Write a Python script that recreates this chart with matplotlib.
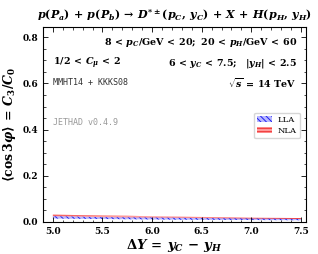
import matplotlib
matplotlib.use("Agg")
import matplotlib.pyplot as plt
from matplotlib.ticker import MultipleLocator

plt.rcParams['mathtext.fontset'] = 'custom'
plt.rcParams['mathtext.it'] = 'DejaVu Serif:italic:bold'
plt.rcParams['mathtext.rm'] = 'DejaVu Serif:bold'
plt.rcParams['mathtext.bf'] = 'DejaVu Serif:bold'
plt.rcParams['mathtext.cal'] = 'DejaVu Serif:italic:bold'
plt.rcParams['font.family'] = 'serif'
plt.rcParams['font.serif'] = ['DejaVu Serif']
plt.rcParams['hatch.linewidth'] = 0.7

dy = [5.0, 5.25, 5.5, 5.75, 6.0, 6.25, 6.5, 6.75, 7.0, 7.25, 7.5]
lla_lo = [0.015, 0.014, 0.013, 0.012, 0.011, 0.010, 0.0095, 0.009, 0.0085, 0.008, 0.0075]
lla_hi = [0.025, 0.023, 0.021, 0.020, 0.019, 0.018, 0.017, 0.016, 0.015, 0.014, 0.013]
nla_lo = [0.020, 0.019, 0.018, 0.017, 0.016, 0.015, 0.014, 0.013, 0.012, 0.011, 0.010]
nla_hi = [0.032, 0.030, 0.028, 0.027, 0.025, 0.024, 0.022, 0.021, 0.019, 0.018, 0.017]

fig = plt.figure(figsize=(3.18, 2.54), dpi=100)
ax = fig.add_axes([0.135, 0.126, 0.827, 0.768])

ax.fill_between(dy, nla_lo, nla_hi, facecolor='#ff9a9a', edgecolor='#ee3030',
                hatch='-----', linewidth=0, label='NLA')
ax.fill_between(dy, lla_lo, lla_hi, facecolor='#b8b8ff', edgecolor='#2020f0',
                hatch='\\\\\\\\\\\\', linewidth=0, label='LLA')

ax.set_xlim(4.9, 7.55)
ax.set_ylim(0, 0.845)
ax.xaxis.set_major_locator(MultipleLocator(0.5))
ax.xaxis.set_minor_locator(MultipleLocator(0.1))
ax.yaxis.set_major_locator(MultipleLocator(0.2))
ax.yaxis.set_minor_locator(MultipleLocator(0.05))
ax.tick_params(which='both', direction='in', top=True, right=True, labelsize=6.5)
ax.tick_params(which='major', length=3.5, width=0.6)
ax.tick_params(which='minor', length=1.8, width=0.5)
for lab in ax.get_xticklabels() + ax.get_yticklabels():
    lab.set_fontweight('bold')

ax.set_title(r'$p(P_a)\,+\,p(P_b)\,\to\,D^{*\pm}(p_\mathcal{C},\,y_\mathcal{C})\,+\,X\,+\,H(p_H,\,y_H)$',
             fontsize=8, pad=6)
ax.set_xlabel(r'$\Delta Y\,=\,y_\mathcal{C}\,-\,y_H$', fontsize=9.5, labelpad=1)
ax.set_ylabel(r'$\langle \cos 3\varphi \rangle\,=\,C_3/C_0$', fontsize=9, labelpad=3)

kw = dict(transform=ax.transAxes, fontsize=6.8)
ax.text(0.966, 0.918, r'$8\,<\,p_\mathcal{C}/\mathrm{GeV}\,<\,20;\ 20\,<\,p_H/\mathrm{GeV}\,<\,60$',
        ha='right', va='center', **kw)
ax.text(0.04, 0.815, r'$1/2\,<\,C_\mu\,<\,2$', ha='left', va='center', **kw)
ax.text(0.966, 0.815, r'$6\,<\,y_\mathcal{C}\,<\,7.5;\ \ |y_H|\,<\,2.5$', ha='right', va='center', **kw)
ax.text(0.966, 0.713, r'$\sqrt{s}\,=\,14\ \mathrm{TeV}$', ha='right', va='center', **kw)
ax.text(0.04, 0.713, 'MMHT14 + KKKS08', ha='left', va='center', family='DejaVu Sans Mono',
        fontsize=6, color='#333333', transform=ax.transAxes)
ax.text(0.04, 0.508, 'JETHAD v0.4.9', ha='left', va='center', family='DejaVu Sans Mono',
        fontsize=6, color='#999999', transform=ax.transAxes)

handles, labels = ax.get_legend_handles_labels()
ax.legend(handles[::-1], labels[::-1], loc='center right', bbox_to_anchor=(0.992, 0.495),
          fontsize=6, frameon=True, fancybox=True, handlelength=1.8, handleheight=0.8,
          handletextpad=0.6, borderpad=0.4, labelspacing=0.35, edgecolor='#cccccc')

fig.savefig('out.png', dpi=100)
